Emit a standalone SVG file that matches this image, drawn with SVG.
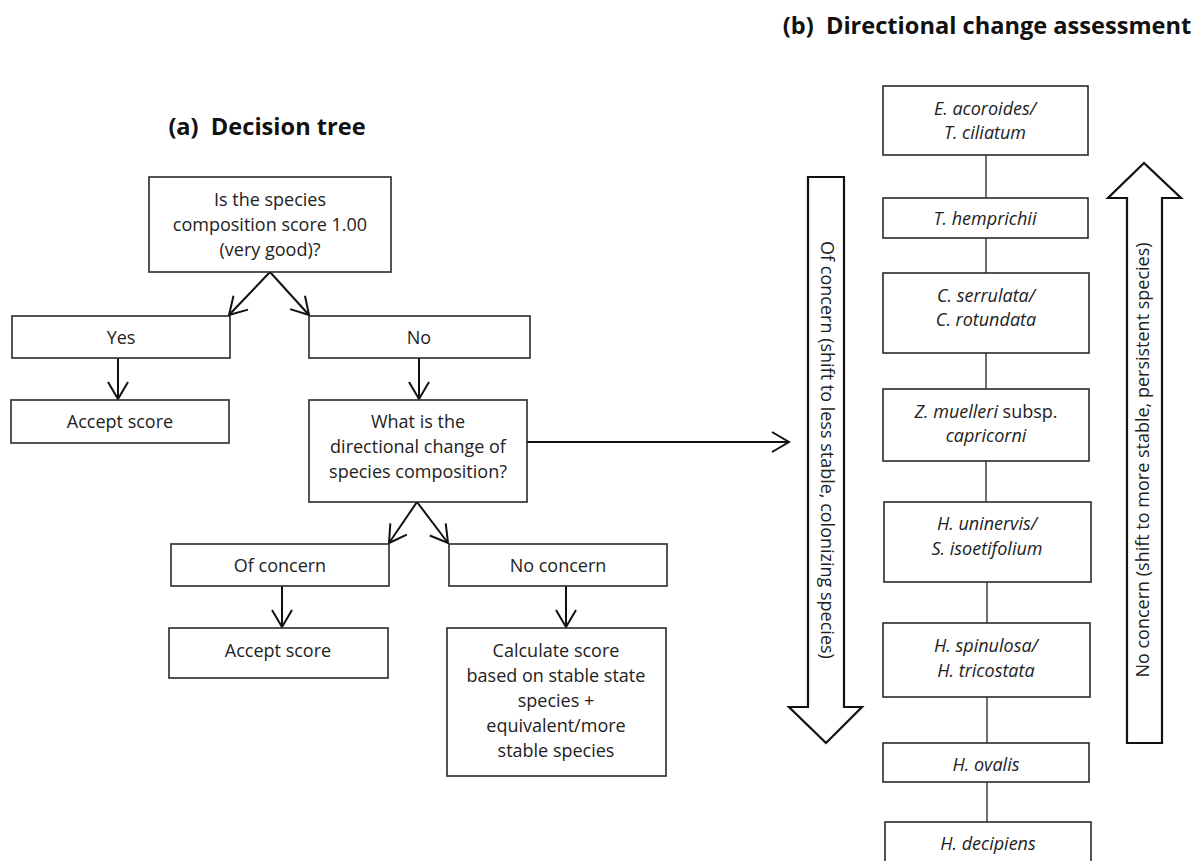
<svg xmlns="http://www.w3.org/2000/svg" width="1195" height="861" viewBox="0 0 1195 861">
<style>
  .box { fill: #fff; stroke: #2a2a2a; stroke-width: 1.6; }
  .t { font-family: "Open Sans", "Liberation Sans", sans-serif; font-size: 18px; fill: #222; text-anchor: middle; }
  .i { font-style: italic; }
  .title { font-family: "Open Sans", "Liberation Sans", sans-serif; font-size: 23.6px; font-weight: bold; fill: #111; text-anchor: middle; }
  .arr { stroke: #111; stroke-width: 2; fill: none; }
  .link { stroke: #333; stroke-width: 1.4; fill: none; }
  .big { fill: #fff; stroke: #111; stroke-width: 2.2; stroke-linejoin: miter; }
</style>
<defs>
  <marker id="ah" viewBox="-19 -12 21 24" refX="0" refY="0" markerWidth="21" markerHeight="24" markerUnits="userSpaceOnUse" orient="auto">
    <path d="M-17,-10 L0,0 L-17,10" fill="none" stroke="#111" stroke-width="2"/>
  </marker>
</defs>
<rect width="1195" height="861" fill="#fff"/>

<text class="title" x="267" y="135" xml:space="preserve">(a)  Decision tree</text>
<text class="title" x="987" y="34" xml:space="preserve">(b)  Directional change assessment</text>

<g id="connectors">
  <line class="arr" x1="270" y1="272" x2="229" y2="315" marker-end="url(#ah)"/>
  <line class="arr" x1="270" y1="272" x2="309" y2="315" marker-end="url(#ah)"/>
  <line class="arr" x1="118" y1="358" x2="118" y2="399" marker-end="url(#ah)"/>
  <line class="arr" x1="419" y1="358" x2="419" y2="399" marker-end="url(#ah)"/>
  <line class="arr" x1="527" y1="442" x2="789" y2="442" marker-end="url(#ah)"/>
  <line class="arr" x1="417" y1="502" x2="389" y2="543" marker-end="url(#ah)"/>
  <line class="arr" x1="417" y1="502" x2="448" y2="543" marker-end="url(#ah)"/>
  <line class="arr" x1="282" y1="586" x2="282" y2="627" marker-end="url(#ah)"/>
  <line class="arr" x1="566" y1="586" x2="566" y2="627" marker-end="url(#ah)"/>
  <line class="link" x1="986" y1="155" x2="986" y2="198"/>
  <line class="link" x1="986" y1="238" x2="986" y2="273"/>
  <line class="link" x1="986" y1="353" x2="986" y2="389"/>
  <line class="link" x1="986" y1="461" x2="986" y2="502"/>
  <line class="link" x1="987" y1="582" x2="987" y2="623"/>
  <line class="link" x1="987" y1="697" x2="987" y2="743"/>
  <line class="link" x1="987" y1="782" x2="987" y2="822"/>
</g>

<g id="q1">
  <rect class="box" x="149" y="177" width="242" height="95"/>
  <text class="t" x="270" y="206">Is the species</text>
  <text class="t" x="270" y="231">composition score 1.00</text>
  <text class="t" x="270" y="256">(very good)?</text>
</g>
<g id="yes">
  <rect class="box" x="12" y="316" width="218" height="42"/>
  <text class="t" x="121" y="344">Yes</text>
</g>
<g id="no">
  <rect class="box" x="309" y="316" width="221" height="42"/>
  <text class="t" x="419" y="344">No</text>
</g>
<g id="accept1">
  <rect class="box" x="11" y="400" width="218" height="43"/>
  <text class="t" x="120" y="428">Accept score</text>
</g>
<g id="q2">
  <rect class="box" x="309" y="400" width="218" height="102"/>
  <text class="t" x="418" y="428">What is the</text>
  <text class="t" x="418" y="453">directional change of</text>
  <text class="t" x="418" y="478">species composition?</text>
</g>
<g id="ofconcern">
  <rect class="box" x="171" y="544" width="218" height="42"/>
  <text class="t" x="280" y="572">Of concern</text>
</g>
<g id="noconcern">
  <rect class="box" x="449" y="544" width="218" height="42"/>
  <text class="t" x="558" y="572">No concern</text>
</g>
<g id="accept2">
  <rect class="box" x="169" y="628" width="219" height="50"/>
  <text class="t" x="278" y="657">Accept score</text>
</g>
<g id="calculate">
  <rect class="box" x="447" y="628" width="219" height="148"/>
  <text class="t" x="556" y="657">Calculate score</text>
  <text class="t" x="556" y="682">based on stable state</text>
  <text class="t" x="556" y="707">species +</text>
  <text class="t" x="556" y="732">equivalent/more</text>
  <text class="t" x="556" y="757">stable species</text>
</g>

<g id="sp-enhalus">
  <rect class="box" x="883" y="86" width="205" height="69"/>
  <text class="t i" x="985" y="115">E. acoroides/</text>
  <text class="t i" x="985" y="139">T. ciliatum</text>
</g>
<g id="sp-thalassia">
  <rect class="box" x="883" y="198" width="205" height="40"/>
  <text class="t i" x="985" y="225">T. hemprichii</text>
</g>
<g id="sp-cymodocea">
  <rect class="box" x="883" y="273" width="206" height="80"/>
  <text class="t i" x="986" y="302">C. serrulata/</text>
  <text class="t i" x="986" y="326">C. rotundata</text>
</g>
<g id="sp-zostera">
  <rect class="box" x="883" y="389" width="206" height="72"/>
  <text class="t" x="986" y="418"><tspan class="i">Z. muelleri</tspan> subsp.</text>
  <text class="t i" x="986" y="442">capricorni</text>
</g>
<g id="sp-halodule">
  <rect class="box" x="884" y="502" width="207" height="80"/>
  <text class="t i" x="987" y="530">H. uninervis/</text>
  <text class="t i" x="987" y="555">S. isoetifolium</text>
</g>
<g id="sp-spinulosa">
  <rect class="box" x="883" y="623" width="207" height="74"/>
  <text class="t i" x="986" y="652">H. spinulosa/</text>
  <text class="t i" x="986" y="677">H. tricostata</text>
</g>
<g id="sp-ovalis">
  <rect class="box" x="883" y="743" width="206" height="39"/>
  <text class="t i" x="986" y="771">H. ovalis</text>
</g>
<g id="sp-decipiens">
  <rect class="box" x="885" y="822" width="206" height="60"/>
  <text class="t i" x="988" y="850">H. decipiens</text>
</g>

<g id="arrow-down">
  <polygon class="big" points="808,177 844,177 844,707 862,707 826,743 789,707 808,707"/>
  <text class="t" transform="translate(826,450) rotate(90)" x="0" y="5">Of concern (shift to less stable, colonizing species)</text>
</g>
<g id="arrow-up">
  <polygon class="big" points="1127,743 1162,743 1162,198 1181,198 1144,163 1108,198 1127,198"/>
  <text class="t" transform="translate(1144,460) rotate(-90)" x="0" y="5">No concern (shift to more stable, persistent species)</text>
</g>
</svg>
